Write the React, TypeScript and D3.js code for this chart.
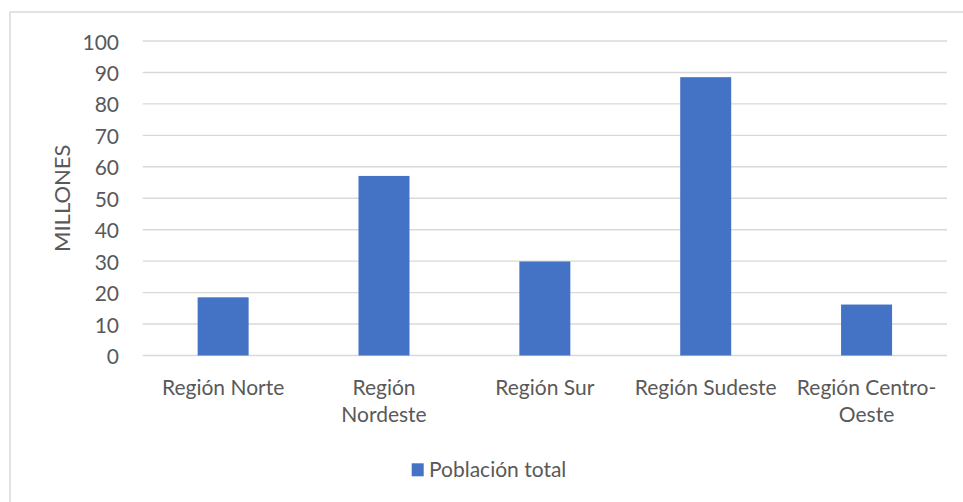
import * as d3 from "d3";

const categories = [
  ["Región Norte"],
  ["Región", "Nordeste"],
  ["Región Sur"],
  ["Región Sudeste"],
  ["Región Centro-", "Oeste"],
];
const poblacion = [18.5, 57.1, 29.9, 88.5, 16.2];
const yTicks = [0, 10, 20, 30, 40, 50, 60, 70, 80, 90, 100];
const seriesName = "Población total";
const axisTitle = "MILLONES";

export default function App() {
  const width = 963;
  const height = 502;
  const margin = { top: 41, right: 16, bottom: 146.5, left: 142.7 };
  const font = "Lato, 'Open Sans', sans-serif";
  const textColor = "#595959";
  const barColor = "#4472C4";
  const gridColor = "#D9D9D9";

  const keys = categories.map((c) => c.join(" "));

  const xScale = d3
    .scaleBand()
    .domain(keys)
    .range([margin.left, width - margin.right])
    .paddingInner(0.683)
    .paddingOuter(0.3415);

  const yScale = d3
    .scaleLinear()
    .domain([0, 100])
    .range([height - margin.bottom, margin.top]);

  return (
    <div style={{ position: "absolute", left: 0, top: 0 }}>
      <svg width={width} height={height} style={{ display: "block" }}>
        <rect width={width} height={height} fill="white" />
        {/* chart border */}
        <rect
          x={10}
          y={12}
          width={width + 20}
          height={height + 20}
          fill="none"
          stroke={gridColor}
          strokeWidth="1.5"
        />
        {/* grid lines */}
        {yTicks.map((t) => (
          <line
            key={t}
            x1={margin.left}
            x2={width - margin.right}
            y1={yScale(t)}
            y2={yScale(t)}
            stroke={gridColor}
            strokeWidth="1.4"
          />
        ))}
        {/* tick labels */}
        {yTicks.map((t) => (
          <text
            key={t}
            x={119}
            y={yScale(t)}
            textAnchor="end"
            dominantBaseline="central"
            fill={textColor}
            fontFamily={font}
            fontSize="21"
          >
            {t}
          </text>
        ))}
        {/* axis title */}
        <text
          transform={`translate(70, ${(yScale(0) + yScale(100)) / 2}) rotate(-90)`}
          textAnchor="middle"
          fill={textColor}
          fontFamily={font}
          fontSize="22"
        >
          {axisTitle}
        </text>
        {/* bars */}
        {poblacion.map((v, i) => (
          <rect
            key={keys[i]}
            x={xScale(keys[i])}
            y={yScale(v)}
            width={xScale.bandwidth()}
            height={yScale(0) - yScale(v)}
            fill={barColor}
          />
        ))}
        {/* category labels */}
        {categories.map((lines, i) => (
          <text
            key={keys[i]}
            x={(xScale(keys[i]) ?? 0) + xScale.bandwidth() / 2}
            y={395}
            textAnchor="middle"
            fill={textColor}
            fontFamily={font}
            fontSize="21"
          >
            {lines.map((l, j) => (
              <tspan
                key={l}
                x={(xScale(keys[i]) ?? 0) + xScale.bandwidth() / 2}
                dy={j === 0 ? 0 : 27}
              >
                {l}
              </tspan>
            ))}
          </text>
        ))}
        {/* legend */}
        <rect x={411.7} y={463.3} width={12} height={13} fill={barColor} />
        <text
          x={429}
          y={476.5}
          fill={textColor}
          fontFamily={font}
          fontSize="21"
        >
          {seriesName}
        </text>
      </svg>
    </div>
  );
}
